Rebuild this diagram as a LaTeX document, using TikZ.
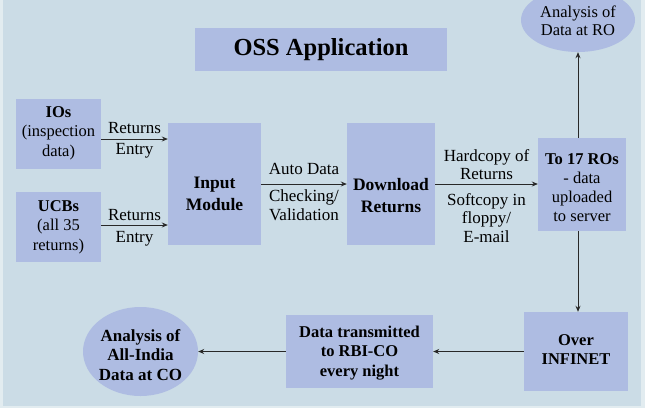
\documentclass[tikz,border=0pt]{standalone}
\usepackage{fontspec}
\setmainfont{Liberation Serif}
\usetikzlibrary{arrows.meta,shapes.geometric}
\definecolor{panelbg}{RGB}{203,220,230}
\definecolor{outerbg}{RGB}{226,236,240}
\definecolor{boxfill}{RGB}{174,188,226}
\definecolor{arrowc}{RGB}{40,40,40}
\tikzset{
  box/.style={fill=boxfill,draw=none,inner sep=0pt},
  oval/.style={ellipse,fill=boxfill,draw=none,inner sep=0pt},
  txt/.style={align=center,inner sep=0pt,font=\fontsize{16.5}{19.5}\selectfont},
  btxt/.style={align=center,inner sep=0pt,font=\fontsize{16.5}{19.5}\selectfont\bfseries},
  conn/.style={draw=arrowc,line width=0.9pt,-{Stealth[length=6pt,width=5pt]}},
  lbl/.style={align=center,inner sep=0pt,font=\fontsize{17}{18.7}\selectfont},
}
\begin{document}
\begin{tikzpicture}[x=1pt,y=-1pt]
\useasboundingbox (0,0) rectangle (645,408);
\clip (0,0) rectangle (645,408);
\fill[outerbg] (0,0) rectangle (645,408);
\fill[panelbg] (3,0) rectangle (641,406);

\node[box,minimum width=252,minimum height=43,font=\fontsize{24.5}{28}\selectfont\bfseries] (title) at (321,49.5) {OSS Application};

\node[box,minimum width=85,minimum height=70] (ios) at (58.5,134) {};
\node[txt] (iost) at (58.5,133) {\textbf{IOs}\\(inspection\\data)};
\node[box,minimum width=85,minimum height=70] (ucb) at (58.5,227) {};
\node[txt] (ucbt) at (58.5,227) {\textbf{UCBs}\\(all 35\\returns)};
\node[box,minimum width=93,minimum height=122] (input) at (214.5,184) {};
\node[btxt,font=\fontsize{17.5}{22}\selectfont\bfseries] (inputt) at (214.5,194) {Input\\Module};
\node[box,minimum width=88,minimum height=122] (down) at (391,184) {};
\node[btxt,font=\fontsize{17.5}{22}\selectfont\bfseries] (downt) at (391,196) {Download\\Returns};
\node[box,minimum width=88,minimum height=93] (ros) at (582,184.5) {};
\node[txt,font=\fontsize{16.5}{19}\selectfont] (rost) at (582,187.5) {\textbf{To 17 ROs}\\- data\\uploaded\\to server};
\node[oval,minimum width=114,minimum height=64] (ro) at (578,20) {};
\node[txt,font=\fontsize{16.5}{18}\selectfont] (rot) at (578,21) {Analysis of\\Data at RO};
\node[box,minimum width=104,minimum height=79] (inf) at (576,351.5) {};
\node[btxt] (inft) at (576,349.5) {Over\\INFINET};
\node[box,minimum width=147,minimum height=73] (trans) at (359.5,351.5) {};
\node[btxt] (transt) at (359.5,352.7) {Data transmitted\\to RBI-CO\\every night};
\node[oval,minimum width=115,minimum height=89] (co) at (140.5,351.5) {};
\node[btxt,font=\fontsize{17}{19.5}\selectfont\bfseries] (cot) at (140.5,355) {Analysis of\\All-India\\Data at CO};

\draw[conn] (ios.east |- 0,139) -- (input.west |- 0,139)
  node[lbl,pos=0.5,yshift=11pt] {Returns} node[lbl,pos=0.5,yshift=-12pt] {Entry};
\draw[conn] (ucb.east |- 0,225) -- (input.west |- 0,225)
  node[lbl,pos=0.5,yshift=10pt] {Returns} node[lbl,pos=0.5,yshift=-14pt] {Entry};
\draw[conn] (input.east |- 0,184) -- (down.west |- 0,184)
  node[lbl,pos=0.5,yshift=15pt] {Auto Data} node[lbl,pos=0.5,yshift=-21.5pt] {Checking/\\Validation};
\draw[conn] (down.east |- 0,184) -- (ros.west |- 0,184)
  node[lbl,pos=0.5,yshift=19.5pt] {Hardcopy of\\Returns} node[lbl,pos=0.5,yshift=-34pt] {Softcopy in\\floppy/\\E-mail};
\draw[conn] (ros.north -| 578,0) -- (ro.south);
\draw[conn] (ros.south -| 578,0) -- (inf.north -| 578,0);
\draw[conn] (inf.west) -- (trans.east);
\draw[conn] (trans.west) -- (co.east);
\end{tikzpicture}
\end{document}
